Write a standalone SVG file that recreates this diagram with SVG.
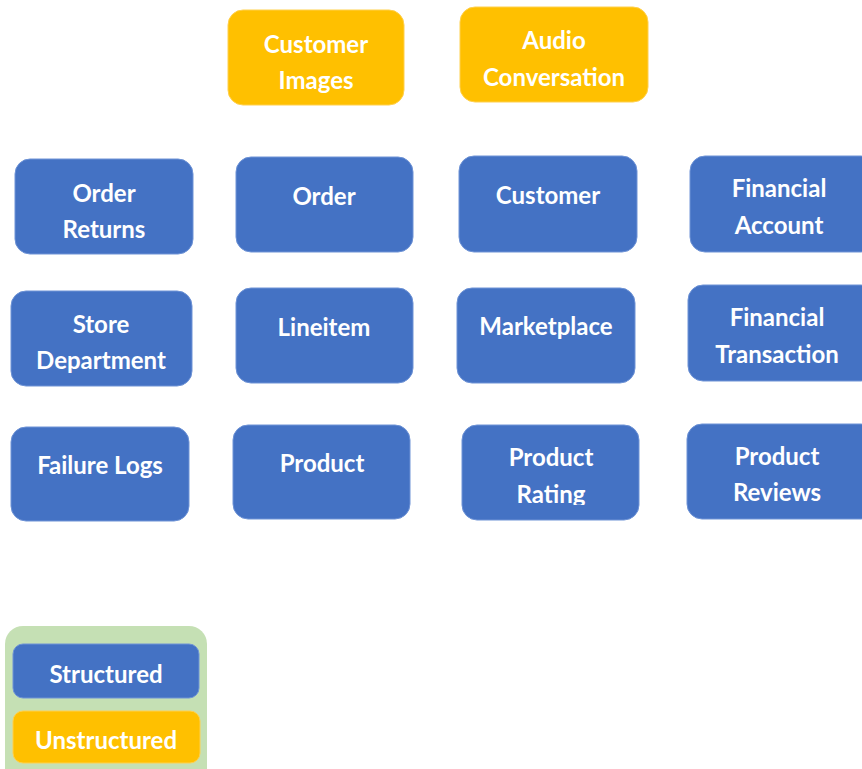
<svg xmlns="http://www.w3.org/2000/svg" width="862" height="769" viewBox="0 0 862 769">
<style>
.b{fill:#4472C4;stroke:#6E93D6;stroke-width:1}
.o{fill:#FFC000;stroke:#FFD04D;stroke-width:1}
.t{font-family:Lato,"Open Sans",sans-serif;font-weight:bold;font-size:24px;fill:#FFFFFF;text-anchor:middle}
</style>
<defs>
<clipPath id="clipRating"><rect x="462" y="425" width="177" height="80"/></clipPath>
</defs>
<rect width="862" height="769" fill="#FFFFFF"/>
<g id="customer-images"><rect class="o" x="228" y="10" width="176" height="95" rx="15"/><text class="t" x="316" y="53">Customer</text><text class="t" x="316" y="89">Images</text></g>
<g id="audio-conversation"><rect class="o" x="460" y="7" width="188" height="95" rx="15"/><text class="t" x="554" y="49">Audio</text><text class="t" x="554" y="86">Conversation</text></g>
<g id="order-returns"><rect class="b" x="15" y="159" width="178" height="95" rx="15"/><text class="t" x="104" y="202">Order</text><text class="t" x="104" y="238">Returns</text></g>
<g id="order"><rect class="b" x="236" y="157" width="177" height="95" rx="15"/><text class="t" x="324" y="205">Order</text></g>
<g id="customer"><rect class="b" x="459" y="156" width="178" height="96" rx="15"/><text class="t" x="548" y="204">Customer</text></g>
<g id="financial-account"><rect class="b" x="690" y="156" width="186" height="96" rx="15"/><text class="t" x="779" y="197">Financial</text><text class="t" x="779" y="234">Account</text></g>
<g id="store-department"><rect class="b" x="11" y="291" width="181" height="95" rx="15"/><text class="t" x="101" y="333">Store</text><text class="t" x="101" y="369">Department</text></g>
<g id="lineitem"><rect class="b" x="236" y="288" width="177" height="95" rx="15"/><text class="t" x="324" y="336">Lineitem</text></g>
<g id="marketplace"><rect class="b" x="457" y="288" width="178" height="95" rx="15"/><text class="t" x="546" y="335">Marketplace</text></g>
<g id="financial-transaction"><rect class="b" x="688" y="285" width="188" height="96" rx="15"/><text class="t" x="777" y="326">Financial</text><text class="t" x="777" y="363">Transaction</text></g>
<g id="failure-logs"><rect class="b" x="11" y="427" width="178" height="94" rx="15"/><text class="t" x="100" y="474">Failure Logs</text></g>
<g id="product"><rect class="b" x="233" y="425" width="177" height="94" rx="15"/><text class="t" x="322" y="472">Product</text></g>
<g id="product-rating"><rect class="b" x="462" y="425" width="177" height="95" rx="15"/><text class="t" x="551" y="466">Product</text><text class="t" x="551" y="503" clip-path="url(#clipRating)">Rating</text></g>
<g id="product-reviews"><rect class="b" x="687" y="424" width="189" height="95" rx="15"/><text class="t" x="777" y="465">Product</text><text class="t" x="777" y="501">Reviews</text></g>
<g id="legend"><rect x="5" y="626" width="202" height="160" rx="18" fill="#C5E0B4"/>
<g id="legend-structured"><rect class="b" x="13" y="644" width="186" height="54" rx="10"/><text class="t" x="106" y="683">Structured</text></g>
<g id="legend-unstructured"><rect class="o" x="13" y="711" width="187" height="52" rx="10"/><text class="t" x="106" y="749">Unstructured</text></g>
</g>
<g id="connectors"/>
</svg>
